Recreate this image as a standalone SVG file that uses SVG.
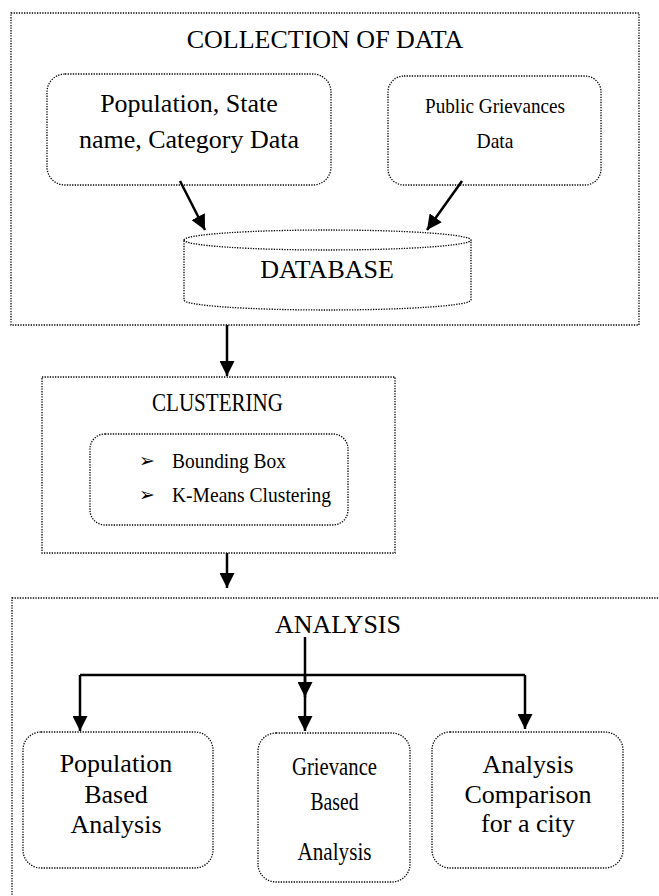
<svg xmlns="http://www.w3.org/2000/svg" width="659" height="896" viewBox="0 0 659 896">
<defs>
<marker id="ah" markerUnits="userSpaceOnUse" markerWidth="16" markerHeight="15" refX="15" refY="7.5" orient="auto">
<path d="M0,0 L15,7.5 L0,15 z" fill="#000"/>
</marker>
</defs>
<style>
.box{fill:none;stroke:#000;stroke-width:1.3;stroke-dasharray:1.3 1.3}
.t{fill:#000;text-anchor:middle}
.l{text-anchor:start}
.c{fill:none;stroke:#000;stroke-width:2.5}
</style>
<rect width="659" height="896" fill="#fff"/>
<g font-family="'Liberation Serif', serif" font-size="26">
<g id="collection">
<rect class="box" x="11" y="13" width="628" height="312"/>
<text class="t" x="325" y="48">COLLECTION OF DATA</text>
</g>
<g id="population-data">
<rect class="box" x="47" y="74" width="284" height="111" rx="18"/>
<text class="t" x="189" y="112">Population, State</text>
<text class="t" x="189" y="148">name, Category Data</text>
</g>
<g id="grievances-data">
<rect class="box" x="388" y="76" width="213" height="109" rx="16"/>
<text class="t" x="495" y="113" font-size="22" textLength="140" lengthAdjust="spacingAndGlyphs">Public Grievances</text>
<text class="t" x="495" y="148" font-size="22" textLength="37" lengthAdjust="spacingAndGlyphs">Data</text>
</g>
<g id="database">
<path class="box" d="M184,240 A143.5,10 0 0 1 471,240 V300 A143.5,10 0 0 1 184,300 Z"/>
<path class="box" d="M184,240 A143.5,10 0 0 0 471,240"/>
<text class="t" x="327" y="278">DATABASE</text>
</g>
<g id="clustering">
<rect class="box" x="42" y="377" width="353" height="176"/>
<text class="t" x="217.5" y="411" textLength="131" lengthAdjust="spacingAndGlyphs">CLUSTERING</text>
</g>
<g id="clustering-methods">
<rect class="box" x="90" y="434" width="258" height="91" rx="15"/>
<text x="139" y="467" font-family="'DejaVu Sans', sans-serif" font-size="19" fill="#000">➢</text>
<text x="139" y="501" font-family="'DejaVu Sans', sans-serif" font-size="19" fill="#000">➢</text>
<text class="t l" x="172" y="468" font-size="22" textLength="114" lengthAdjust="spacingAndGlyphs">Bounding Box</text>
<text class="t l" x="172" y="502" font-size="22" textLength="159" lengthAdjust="spacingAndGlyphs">K-Means Clustering</text>
</g>
<g id="analysis">
<rect class="box" x="12" y="598" width="700" height="400"/>
<text class="t" x="338" y="633">ANALYSIS</text>
</g>
<g id="population-analysis">
<rect class="box" x="23" y="732" width="190" height="136" rx="18"/>
<text class="t" x="116" y="772">Population</text>
<text class="t" x="116" y="803">Based</text>
<text class="t" x="116" y="833">Analysis</text>
</g>
<g id="grievance-analysis">
<rect class="box" x="258" y="733" width="152" height="149" rx="18"/>
<text class="t" x="334.5" y="775" textLength="85" lengthAdjust="spacingAndGlyphs">Grievance</text>
<text class="t" x="334.5" y="810" textLength="48" lengthAdjust="spacingAndGlyphs">Based</text>
<text class="t" x="334.5" y="860" textLength="74" lengthAdjust="spacingAndGlyphs">Analysis</text>
</g>
<g id="city-comparison">
<rect class="box" x="432" y="732" width="191" height="136" rx="18"/>
<text class="t" x="528" y="773">Analysis</text>
<text class="t" x="528" y="803">Comparison</text>
<text class="t" x="528" y="832">for a city</text>
</g>
</g>
<g id="connectors">
<path class="c" d="M180,181 L205,230" marker-end="url(#ah)"/>
<path class="c" d="M462,181 L427,230" marker-end="url(#ah)"/>
<path class="c" d="M227,325 V376" marker-end="url(#ah)"/>
<path class="c" d="M227,553 V588" marker-end="url(#ah)"/>
<path class="c" d="M305,637 V697" marker-end="url(#ah)"/>
<path class="c" d="M305,675 V731" marker-end="url(#ah)"/>
<path class="c" d="M80,675 H525"/>
<path class="c" d="M80,675 V731" marker-end="url(#ah)"/>
<path class="c" d="M525,675 V729" marker-end="url(#ah)"/>
</g>
</svg>
